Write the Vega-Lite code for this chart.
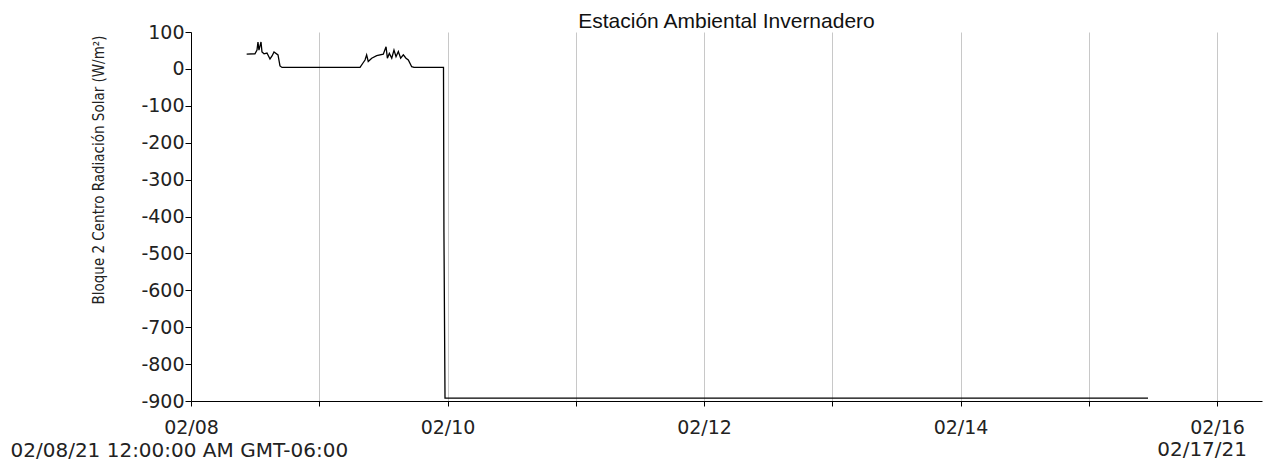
{
  "$schema": "https://vega.github.io/schema/vega-lite/v6.json",
  "width": 1071,
  "height": 369,
  "autosize": "none",
  "padding": {"left": 191, "top": 32, "right": 12, "bottom": 60},
  "title": {"text": "Estación Ambiental Invernadero", "font": "Liberation Sans", "fontSize": 21, "fontWeight": "normal", "color": "#111", "offset": 0, "dy": 9, "anchor": "middle"},
  "config": {
    "view": {"stroke": null},
    "axisX": {
      "labelFont": "DejaVu Sans", "labelFontSize": 19, "labelColor": "#222", "labelPadding": 12, "labelFlush": false, "labelOverlap": false,
      "tickSize": 5, "tickColor": "#000", "domainColor": "#000",
      "grid": true, "gridColor": "#c8c8c8", "gridWidth": 1
    },
    "axisY": {
      "labelOverlap": false, "labelFont": "DejaVu Sans", "labelFontSize": 19, "labelColor": "#222", "labelPadding": 1,
      "tickSize": 6, "tickColor": "#000", "domainColor": "#000", "grid": false
    }
  },
  "layer": [
    {
      "data": {"values": [
        {"t": "2021-02-08T10:25", "v": 40},
        {"t": "2021-02-08T11:58", "v": 41},
        {"t": "2021-02-08T12:21", "v": 51},
        {"t": "2021-02-08T12:32", "v": 73},
        {"t": "2021-02-08T12:43", "v": 51},
        {"t": "2021-02-08T13:06", "v": 73},
        {"t": "2021-02-08T13:17", "v": 46},
        {"t": "2021-02-08T13:40", "v": 41},
        {"t": "2021-02-08T14:13", "v": 43},
        {"t": "2021-02-08T14:47", "v": 27},
        {"t": "2021-02-08T15:10", "v": 35},
        {"t": "2021-02-08T15:32", "v": 46},
        {"t": "2021-02-08T16:17", "v": 38},
        {"t": "2021-02-08T16:39", "v": 8},
        {"t": "2021-02-08T17:02", "v": 4},
        {"t": "2021-02-09T07:38", "v": 4},
        {"t": "2021-02-09T08:11", "v": 16},
        {"t": "2021-02-09T08:34", "v": 24},
        {"t": "2021-02-09T08:52", "v": 38},
        {"t": "2021-02-09T09:10", "v": 20},
        {"t": "2021-02-09T09:49", "v": 29},
        {"t": "2021-02-09T10:45", "v": 36},
        {"t": "2021-02-09T11:59", "v": 40},
        {"t": "2021-02-09T12:30", "v": 60},
        {"t": "2021-02-09T12:45", "v": 29},
        {"t": "2021-02-09T13:07", "v": 42},
        {"t": "2021-02-09T13:34", "v": 29},
        {"t": "2021-02-09T13:59", "v": 51},
        {"t": "2021-02-09T14:22", "v": 33},
        {"t": "2021-02-09T14:48", "v": 47},
        {"t": "2021-02-09T15:14", "v": 29},
        {"t": "2021-02-09T15:44", "v": 38},
        {"t": "2021-02-09T16:14", "v": 29},
        {"t": "2021-02-09T16:40", "v": 24},
        {"t": "2021-02-09T17:18", "v": 6},
        {"t": "2021-02-09T17:44", "v": 4},
        {"t": "2021-02-09T23:15", "v": 4},
        {"t": "2021-02-09T23:20", "v": -444},
        {"t": "2021-02-09T23:32", "v": -892},
        {"t": "2021-02-15T11:05", "v": -892}
      ]},
      "mark": {"type": "line", "color": "#000", "strokeWidth": 1.3},
      "encoding": {
        "x": {
          "field": "t", "type": "temporal",
          "scale": {"domain": [{"year": 2021, "month": 2, "date": 8}, {"year": 2021, "month": 2, "date": 16, "hours": 8, "minutes": 25}], "nice": false},
          "axis": {
            "tickCount": {"interval": "day", "step": 1},
            "labelExpr": "date(datum.value) % 2 == 0 ? timeFormat(datum.value, '%m/%d') : ''",
            "title": "02/08/21 12:00:00 AM GMT-06:00",
            "titleFont": "DejaVu Sans", "titleFontSize": 20, "titleFontWeight": "normal", "titleColor": "#222",
            "titleAlign": "left", "titleAnchor": "start", "titleX": -181, "titleY": 55, "titleBaseline": "alphabetic"
          }
        },
        "y": {
          "field": "v", "type": "quantitative",
          "scale": {"domain": [-900, 100], "nice": false, "zero": false},
          "axis": {
            "values": [-900, -800, -700, -600, -500, -400, -300, -200, -100, 0, 100],
            "labelExpr": "'' + datum.value",
            "title": "Bloque 2 Centro Radiación Solar (W/m²)",
            "titleFont": "DejaVu Sans Condensed", "titleFontSize": 15, "titleFontWeight": "normal", "titleColor": "#222",
            "titleAngle": -90, "titleAlign": "right", "titleX": -93, "titleY": 3, "titleBaseline": "middle"
          }
        }
      }
    },
    {
      "data": {"values": [{"label": "02/17/21"}]},
      "mark": {"type": "text", "align": "right", "baseline": "alphabetic", "dy": 55, "font": "DejaVu Sans", "fontSize": 20, "color": "#222"},
      "encoding": {
        "x": {
          "datum": {"year": 2021, "month": 2, "date": 16, "hours": 5, "minutes": 37}, "type": "temporal",
          "axis": {
            "tickCount": {"interval": "day", "step": 1},
            "labelExpr": "date(datum.value) % 2 == 0 ? timeFormat(datum.value, '%m/%d') : ''",
            "title": "02/08/21 12:00:00 AM GMT-06:00",
            "titleFont": "DejaVu Sans", "titleFontSize": 20, "titleFontWeight": "normal", "titleColor": "#222",
            "titleAlign": "left", "titleAnchor": "start", "titleX": -181, "titleY": 55, "titleBaseline": "alphabetic"
          }
        },
        "y": {
          "datum": -900, "type": "quantitative",
          "axis": {
            "values": [-900, -800, -700, -600, -500, -400, -300, -200, -100, 0, 100],
            "labelExpr": "'' + datum.value",
            "title": "Bloque 2 Centro Radiación Solar (W/m²)",
            "titleFont": "DejaVu Sans Condensed", "titleFontSize": 15, "titleFontWeight": "normal", "titleColor": "#222",
            "titleAngle": -90, "titleAlign": "right", "titleX": -93, "titleY": 3, "titleBaseline": "middle"
          }
        },
        "text": {"field": "label"}
      }
    }
  ]
}
